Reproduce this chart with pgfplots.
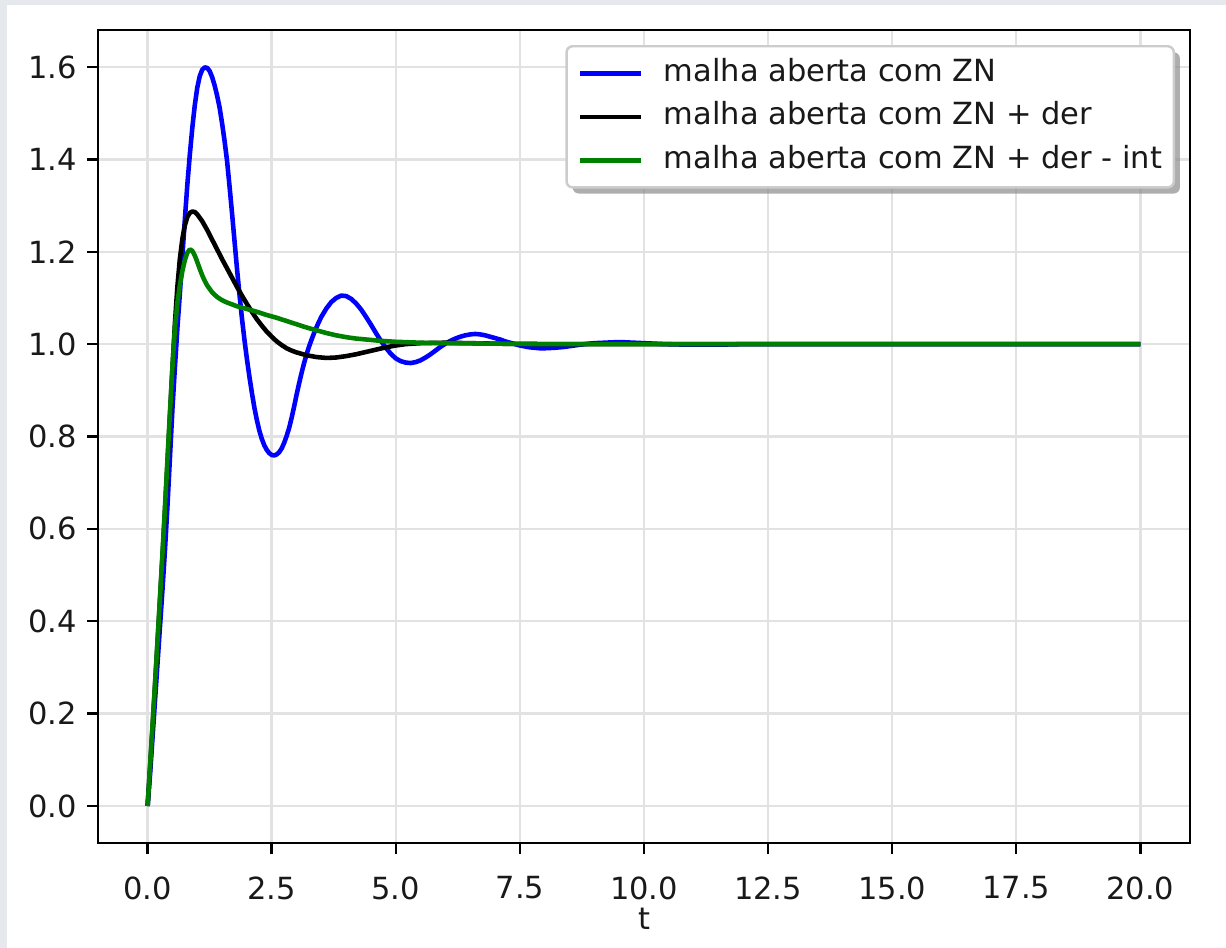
\documentclass[border=0pt]{standalone}
\usepackage{fontspec}
\setmainfont{DejaVu Sans}
\usepackage{pgfplots}
\pgfplotsset{compat=1.18}
\usepackage{pgfplotstable}
\usetikzlibrary{shadows}

\definecolor{mplgreen}{RGB}{0,128,0}
\definecolor{pagebg}{RGB}{229,232,236}
\definecolor{gridgray}{RGB}{226,226,226}

% the legend frame's shadow must not be repeated on the sample lines
\makeatletter
\tikzset{no preactions/.code={\let\tikz@preactions\pgfutil@empty}}
\makeatother

% closed-loop step responses
\pgfplotstableread{
t y
0.00 0.000
0.05 0.070
0.10 0.150
0.15 0.230
0.20 0.310
0.25 0.390
0.30 0.470
0.35 0.555
0.40 0.650
0.45 0.755
0.50 0.860
0.55 0.950
0.60 1.035
0.65 1.110
0.70 1.190
0.75 1.270
0.80 1.345
0.85 1.410
0.90 1.468
0.95 1.517
1.00 1.555
1.05 1.580
1.10 1.594
1.15 1.599
1.20 1.598
1.25 1.591
1.30 1.578
1.35 1.560
1.40 1.538
1.45 1.512
1.50 1.478
1.55 1.440
1.60 1.397
1.65 1.342
1.70 1.284
1.75 1.224
1.80 1.164
1.85 1.108
1.90 1.056
1.95 1.010
2.00 0.968
2.05 0.930
2.10 0.895
2.15 0.863
2.20 0.836
2.25 0.813
2.30 0.795
2.35 0.781
2.40 0.771
2.45 0.764
2.50 0.760
2.55 0.759
2.60 0.761
2.65 0.766
2.70 0.774
2.75 0.786
2.80 0.801
2.85 0.818
2.90 0.840
2.95 0.864
3.00 0.890
3.05 0.914
3.10 0.937
3.15 0.958
3.20 0.977
3.25 0.994
3.30 1.009
3.35 1.023
3.40 1.036
3.45 1.048
3.50 1.059
3.60 1.077
3.70 1.091
3.80 1.100
3.90 1.105
4.00 1.104
4.10 1.098
4.20 1.088
4.30 1.075
4.40 1.059
4.50 1.042
4.60 1.024
4.70 1.007
4.80 0.992
4.90 0.979
5.00 0.969
5.10 0.963
5.20 0.960
5.30 0.959
5.40 0.961
5.50 0.965
5.60 0.971
5.70 0.978
5.80 0.986
5.90 0.994
6.00 1.001
6.10 1.007
6.20 1.012
6.30 1.016
6.40 1.019
6.50 1.021
6.60 1.022
6.70 1.021
6.80 1.019
6.90 1.016
7.00 1.013
7.10 1.010
7.20 1.006
7.30 1.003
7.40 1.000
7.50 0.997
7.60 0.995
7.70 0.993
7.80 0.992
7.90 0.991
8.00 0.991
8.20 0.992
8.40 0.994
8.60 0.997
8.80 1.000
9.00 1.002
9.20 1.003
9.40 1.004
9.60 1.004
9.80 1.003
10.00 1.002
10.40 1.000
10.80 0.999
11.20 0.999
11.60 0.999
12.00 1.000
14.00 1.000
16.00 1.000
18.00 1.000
20.00 1.000
}\zn

\pgfplotstableread{
t y
0.00 0.000
0.05 0.085
0.10 0.172
0.15 0.262
0.20 0.355
0.25 0.448
0.30 0.542
0.35 0.640
0.40 0.742
0.45 0.845
0.50 0.948
0.55 1.045
0.60 1.125
0.65 1.185
0.70 1.228
0.75 1.257
0.80 1.275
0.85 1.284
0.90 1.287
0.95 1.286
1.00 1.281
1.10 1.266
1.20 1.247
1.30 1.226
1.40 1.205
1.50 1.184
1.60 1.164
1.70 1.144
1.80 1.124
1.90 1.105
2.00 1.087
2.10 1.070
2.20 1.054
2.30 1.040
2.40 1.027
2.50 1.016
2.60 1.006
2.70 0.998
2.80 0.991
2.90 0.986
3.00 0.982
3.20 0.976
3.40 0.972
3.60 0.970
3.80 0.971
4.00 0.974
4.20 0.978
4.40 0.983
4.60 0.988
4.80 0.993
5.00 0.997
5.20 1.000
5.50 1.002
6.00 1.003
6.50 1.002
7.00 1.001
8.00 1.000
12.00 1.000
16.00 1.000
20.00 1.000
}\znder

\pgfplotstableread{
t y
0.00 0.000
0.05 0.088
0.10 0.177
0.15 0.267
0.20 0.358
0.25 0.452
0.30 0.548
0.35 0.648
0.40 0.750
0.45 0.852
0.50 0.950
0.55 1.035
0.60 1.090
0.65 1.128
0.70 1.158
0.75 1.182
0.80 1.198
0.85 1.205
0.90 1.202
0.95 1.192
1.00 1.178
1.05 1.163
1.10 1.149
1.15 1.137
1.20 1.127
1.30 1.112
1.40 1.102
1.50 1.095
1.60 1.090
1.70 1.086
1.80 1.082
2.00 1.076
2.20 1.070
2.40 1.063
2.60 1.057
2.80 1.050
3.00 1.043
3.20 1.036
3.40 1.030
3.60 1.024
3.80 1.019
4.00 1.015
4.20 1.012
4.40 1.010
4.70 1.007
5.00 1.005
5.50 1.003
6.00 1.002
7.00 1.001
8.00 1.000
12.00 1.000
16.00 1.000
20.00 1.000
}\znderint

\begin{document}
\begin{tikzpicture}
\useasboundingbox (0,0) rectangle (402.13pt,310.94pt);
\fill[pagebg] (0,0) rectangle (402.13pt,310.94pt);
\fill[white] (2.3pt,0) rectangle (402.13pt,309.3pt);
\begin{axis}[
  at={(32.14pt,34.44pt)}, anchor=south west,
  scale only axis, width=358.18pt, height=266.66pt,
  xmin=-1, xmax=21, ymin=-0.08, ymax=1.68,
  xtick={0,2.5,5,7.5,10,12.5,15,17.5,20},
  ytick={0,0.2,0.4,0.6,0.8,1.0,1.2,1.4,1.6},
  tick align=outside, tick pos=left,
  major tick length=3.5pt,
  tick style={black, line width=0.8pt},
  axis line style={line width=0.8pt},
  grid=major,
  major grid style={gridgray, line width=0.8pt},
  /pgf/number format/assume math mode=true,
  xticklabel style={yshift=-4pt, /pgf/number format/.cd, fixed, fixed zerofill, precision=1},
  yticklabel style={/pgf/number format/.cd, fixed, fixed zerofill, precision=1},
  ticklabel style={font=\fontsize{10}{12}\selectfont, color=black!90},
  xlabel={t},
  xlabel style={at={(axis description cs:0.5,-0.0935)}, anchor=center},
  label style={font=\fontsize{10}{12}\selectfont, color=black!90},
  legend cell align=left,
  legend image code/.code={\draw[no preactions, #1, line width=1.5pt] (0pt,0pt) -- (20pt,0pt);},
  legend style={
    at={(rel axis cs:0.9863,0.9815)}, anchor=north east,
    draw=black!20, line width=0.8pt, fill=white, rounded corners=2pt,
    drop shadow={shadow xshift=2pt, shadow yshift=-2pt, fill=black!45, opacity=0.7},
    font=\fontsize{10}{12}\selectfont, text=black!90,
    inner xsep=3.8pt, inner ysep=4pt,
    row sep=4.6pt, column sep=6.6pt,
    nodes={inner sep=0pt, text height=7.4pt, text depth=2.3pt},
  },
]
\addplot[blue, line width=1.5pt, line join=round] table[x=t, y=y] {\zn};
\addlegendentry{malha aberta com ZN}
\addplot[black, line width=1.5pt, line join=round] table[x=t, y=y] {\znder};
\addlegendentry{malha aberta com ZN + der}
\addplot[mplgreen, line width=1.5pt, line join=round] table[x=t, y=y] {\znderint};
\addlegendentry{malha aberta com ZN + der - int}
\end{axis}
\end{tikzpicture}
\end{document}
